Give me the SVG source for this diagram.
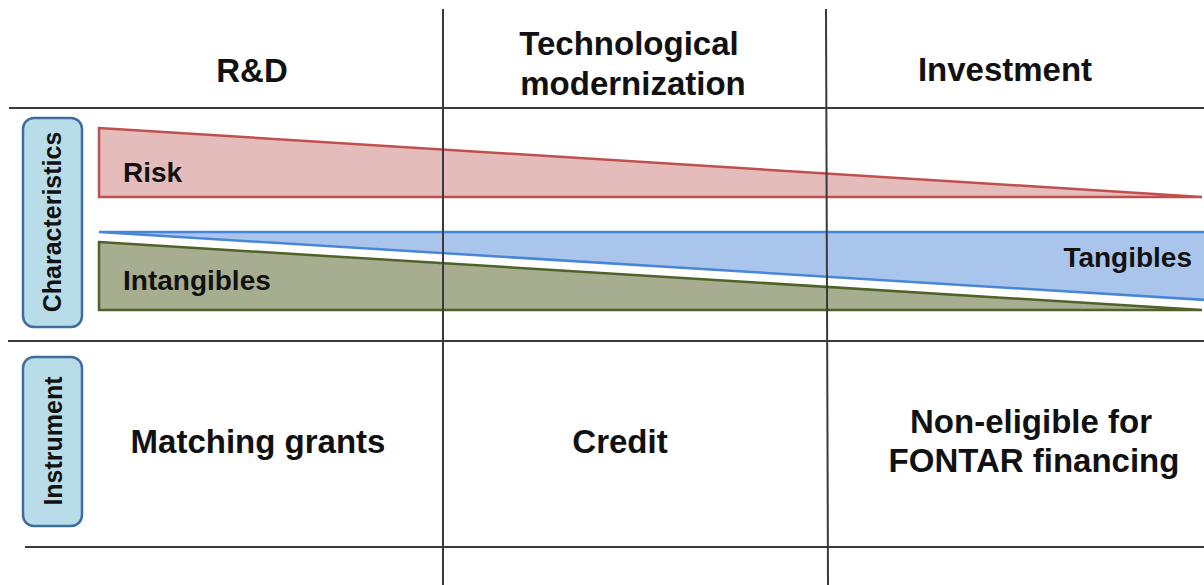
<svg xmlns="http://www.w3.org/2000/svg" width="1204" height="585" viewBox="0 0 1204 585">
  <style>
    .grid { stroke: #3a3a3a; stroke-width: 2; fill: none; }
    .head { font-family: "Liberation Sans", Arial, sans-serif; font-weight: bold; font-size: 33px; fill: #111; text-anchor: middle; }
    .band { font-family: "Liberation Sans", Arial, sans-serif; font-weight: bold; font-size: 28px; fill: #111; }
    .side { font-family: "Liberation Sans", Arial, sans-serif; font-weight: bold; font-size: 25px; fill: #111; text-anchor: middle; }
    .tab { fill: #b8dde8; stroke: #3f6e9e; stroke-width: 2.5; }
  </style>
  <rect width="1204" height="585" fill="#ffffff"/>

  <!-- wedge shapes showing how each characteristic changes across stages -->
  <g id="risk">
    <polygon points="99,128 1202,197 99,197" fill="#e5bcbc" stroke="#c0504d" stroke-width="2.5"/>
    <text class="band" x="123" y="182">Risk</text>
  </g>
  <g id="tangibles">
    <polygon points="99,232 1206,232 1206,300" fill="#a9c5ec" stroke="#4a86d8" stroke-width="2.5"/>
    <text class="band" x="1192" y="267" text-anchor="end">Tangibles</text>
  </g>
  <g id="intangibles">
    <polygon points="99,242 1202,310 99,310" fill="#a6ae8f" stroke="#4f6228" stroke-width="2.5"/>
    <text class="band" x="123" y="290">Intangibles</text>
  </g>

  <!-- table rules -->
  <g id="connectors">
    <line class="grid" x1="9" y1="108" x2="1204" y2="108"/>
    <line class="grid" x1="8" y1="341" x2="1204" y2="341"/>
    <line class="grid" x1="25" y1="547" x2="1204" y2="547"/>
    <line class="grid" x1="443" y1="9" x2="443" y2="585"/>
    <line class="grid" x1="826" y1="9" x2="828" y2="585"/>
  </g>

  <!-- column headers -->
  <g id="col-rd">
    <text class="head" x="252" y="82">R&amp;D</text>
  </g>
  <g id="col-tech">
    <text class="head" x="629" y="55">Technological</text>
    <text class="head" x="633" y="95">modernization</text>
  </g>
  <g id="col-investment">
    <text class="head" x="1005" y="81">Investment</text>
  </g>

  <!-- row labels -->
  <g id="row-characteristics">
    <rect class="tab" x="23" y="118" width="59" height="209" rx="11"/>
    <text class="side" transform="translate(61,222) rotate(-90)">Characteristics</text>
  </g>
  <g id="row-instrument">
    <rect class="tab" x="23" y="357" width="59" height="169" rx="11"/>
    <text class="side" transform="translate(62,441) rotate(-90)">Instrument</text>
  </g>

  <!-- instruments -->
  <g id="inst-grants">
    <text class="head" x="258" y="453">Matching grants</text>
  </g>
  <g id="inst-credit">
    <text class="head" x="620" y="453">Credit</text>
  </g>
  <g id="inst-none">
    <text class="head" x="1031" y="433">Non-eligible for</text>
    <text class="head" x="1034" y="472">FONTAR financing</text>
  </g>
</svg>
